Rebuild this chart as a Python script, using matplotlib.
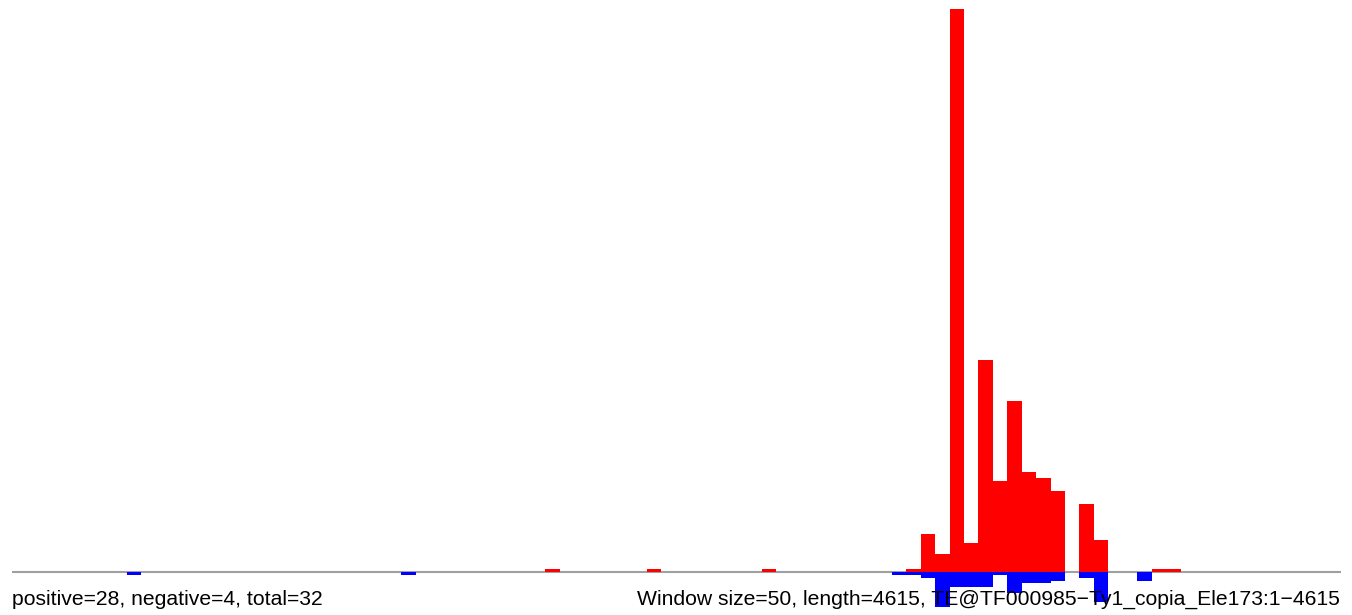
import matplotlib
matplotlib.use("Agg")
import matplotlib.pyplot as plt

plt.rcParams['font.family'] = ['Liberation Sans', 'DejaVu Sans']

# ---- data ----
window_size = 50
length = 4615
positive, negative, total = 28, 4, 32
pos_windows = [37, 44, 52, 62, 63, 64, 65, 66, 67, 68, 69, 70, 71, 72, 74, 75, 79, 80]
pos_values = [1, 1, 1, 1, 13, 6, 191, 10, 72, 31, 58, 34, 32, 27.5, 23, 11, 1, 1]
neg_windows = [8, 27, 61, 62, 63, 64, 65, 66, 67, 68, 69, 70, 71, 72, 74, 75, 78]
neg_values = [1, 1, 0.9, 0.9, 2, 12, 5, 5, 5, 1, 7, 3.8, 3.8, 2.9, 2, 10, 3]
left_label = f"positive={positive}, negative={negative}, total={total}"
right_label = (f"Window size={window_size}, length={length}, "
               "TE@TF000985\u2212Ty1_copia_Ele173:1\u2212" + str(length))

# ---- figure ----
W, H = 1352, 615
fig = plt.figure(figsize=(W / 100, H / 100), dpi=100)
ax = fig.add_axes([11.5 / W, 0, (1341 - 11.5) / W, 1])
ax.set_axis_off()

ax.axhline(0, color='#a0a0a0', lw=1.5, zorder=1)

ax.bar([w * window_size for w in pos_windows], pos_values, width=window_size,
       align='edge', color='#ff0000', edgecolor='none', linewidth=0,
       antialiased=False, zorder=2)
ax.bar([w * window_size for w in neg_windows], [-v for v in neg_values],
       width=window_size, align='edge', color='#0000ff', edgecolor='none',
       linewidth=0, antialiased=False, zorder=2)

ax.set_xlim(0, 4606)
ax.set_ylim(-43 / 2.95, 572 / 2.95)

fig.text(12 / W, (H - 605) / H, left_label, fontsize=15.2, ha='left',
         va='baseline', color='black', zorder=5)
fig.text(1340 / W, (H - 605) / H, right_label, fontsize=15.2, ha='right',
         va='baseline', color='black', zorder=5)

fig.savefig("out.png", dpi=100)
